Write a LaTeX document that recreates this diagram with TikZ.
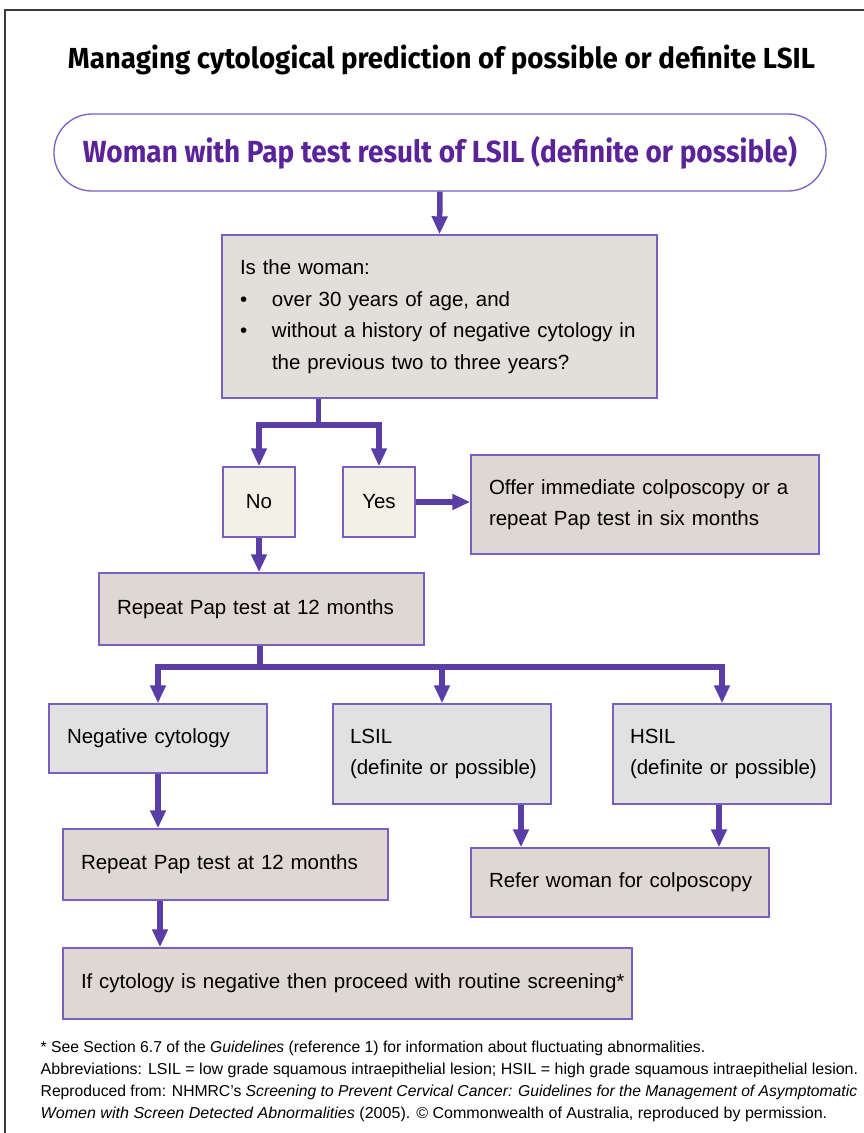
\documentclass[tikz,border=0pt]{standalone}
\usepackage{fontspec}
\usepackage{graphicx}
\setmainfont{Liberation Sans}
\newfontfamily\headfont{Fira Sans}
\usetikzlibrary{arrows.meta}
\definecolor{arrowc}{HTML}{5B3DA6}
\definecolor{borderc}{HTML}{7A5FC2}
\definecolor{headpurple}{HTML}{5A2399}
\definecolor{qfill}{HTML}{E2DEDA}
\definecolor{beige}{HTML}{DFD8D2}
\definecolor{cream}{HTML}{F3F1E6}
\definecolor{grayfill}{HTML}{E1E1E1}
\definecolor{framec}{HTML}{3A3A3A}
\newcommand\mybody{\fontsize{20.5}{31.5}\selectfont}
\newcommand\myfoot{\fontsize{15.8}{22}\selectfont}
\newcommand\bul{\makebox[32pt][l]{\textbullet}}
\newcommand\bxline[1]{\mbox{#1}}
\newcommand\fitto[2]{\resizebox{#1}{\height}{#2}}
\begin{document}
\begin{tikzpicture}[x=1pt,y=-1pt,
  box/.style={draw=borderc, line width=1.4pt, inner xsep=18pt, inner ysep=0pt,
    align=left, font=\mybody, text=black},
  sbox/.style={draw=borderc, line width=1.4pt, inner sep=0pt, fill=cream,
    minimum width=72pt, minimum height=70pt, font=\mybody, text=black},
  conn/.style={draw=arrowc, line width=5.5pt},
  arr/.style={conn, -{Triangle[width=15pt,length=18pt]}},
  foot/.style={anchor=base west, inner sep=0pt, font=\myfoot}
]
\useasboundingbox (0,0) rectangle (864,1133);
\draw[framec, line width=1.5pt] (5,1140) -- (5,10) -- (870,10);

% title
\node[anchor=base, inner sep=0pt, font=\headfont\bfseries\fontsize{29}{34}\selectfont]
  (title) at (441.5,68.3) {\fitto{747pt}{Managing cytological prediction of possible or definite LSIL}};

% start
\node[draw=borderc, line width=1.3pt, rounded corners=38pt, minimum width=772pt,
  minimum height=77pt, inner sep=0pt, text=headpurple,
  font=\headfont\bfseries\fontsize{30.5}{36}\selectfont]
  (top) at (440,152.5) {\fitto{714pt}{Woman with Pap test result of LSIL (definite or possible)}};

% question
\node[box, fill=qfill, text width=399pt, minimum height=163pt] (q) at (439.5,316.5)
  {\bxline{Is the woman:}\\
   \bxline{\bul over 30 years of age, and}\\
   \bxline{\bul without a history of negative cytology in}\\
   \bxline{\hspace*{32pt}the previous two to three years?}};

\node[sbox] (no) at (259,502) {No};
\node[sbox] (yes) at (379,502) {Yes};

\node[box, fill=beige, text width=312pt, minimum height=99pt] (offer) at (645,504.5)
  {\bxline{Offer immediate colposcopy or a}\\ \bxline{repeat Pap test in six months}};

\node[box, fill=beige, text width=289pt, minimum height=72pt] (rep1) at (261.5,609)
  {\bxline{Repeat Pap test at 12 months}};

\node[box, fill=grayfill, text width=182pt, minimum height=69pt] (neg) at (158,738.5)
  {\bxline{Negative cytology}};
\node[box, fill=grayfill, text width=184pt, inner xsep=17pt, minimum height=100pt] (lsil) at (442,754)
  {\bxline{LSIL}\\ \bxline{(definite or possible)}};
\node[box, fill=grayfill, text width=184pt, inner xsep=17pt, minimum height=100pt] (hsil) at (722,754)
  {\bxline{HSIL}\\ \bxline{(definite or possible)}};

\node[box, fill=beige, text width=289pt, minimum height=71pt] (rep2) at (225.5,864.5)
  {\bxline{Repeat Pap test at 12 months}};
\node[box, fill=beige, text width=262pt, minimum height=69pt] (refer) at (620,882.5)
  {\bxline{Refer woman for colposcopy}};
\node[box, fill=beige, text width=533pt, minimum height=71pt] (ifb) at (347.5,983.5)
  {\bxline{If cytology is negative then proceed with routine screening*}};

% connectors
\draw[arr] (top.south) -- (q.north);
\coordinate (split1) at (318.5,425);
\draw[conn] (q.south -| split1) -- (split1);
\draw[arr] (split1) -| (no.north);
\draw[arr] (split1) -| (yes.north);
\draw[arr] (yes.east) -- (yes.east -| offer.west);
\draw[arr] (no.south) -- (no.south |- rep1.north);
\coordinate (split2) at (260,667);
\draw[conn] (split2 |- rep1.south) -- (split2);
\draw[arr] (split2) -| (neg.north);
\draw[arr] (split2) -| (lsil.north);
\draw[arr] (split2) -| (hsil.north);
\draw[arr] (neg.south) -- (neg.south |- rep2.north);
\draw[arr] ([xshift=79pt]lsil.south) -- ([xshift=79pt]lsil.south |- refer.north);
\draw[arr] ([xshift=-3pt]hsil.south) -- ([xshift=-3pt]hsil.south |- refer.north);
\draw[arr] ([xshift=-65.5pt]rep2.south) -- ([xshift=-65.5pt]rep2.south |- ifb.north);

% footnotes
\node[foot] (fn1) at (40.5,1052) {\fitto{664.5pt}{* See Section 6.7 of the \textit{Guidelines} (reference 1) for information about fluctuating abnormalities.}};
\node[foot] (fn2) at (40.5,1074) {\fitto{817.5pt}{Abbreviations: LSIL = low grade squamous intraepithelial lesion; HSIL = high grade squamous intraepithelial lesion.}};
\node[foot] (fn3) at (40.5,1096) {\fitto{816.5pt}{Reproduced from: NHMRC’s \textit{Screening to Prevent Cervical Cancer: Guidelines for the Management of Asymptomatic}}};
\node[foot] (fn4) at (40.5,1118) {\fitto{786.5pt}{\textit{Women with Screen Detected Abnormalities} (2005). © Commonwealth of Australia, reproduced by permission.}};
\end{tikzpicture}
\end{document}
